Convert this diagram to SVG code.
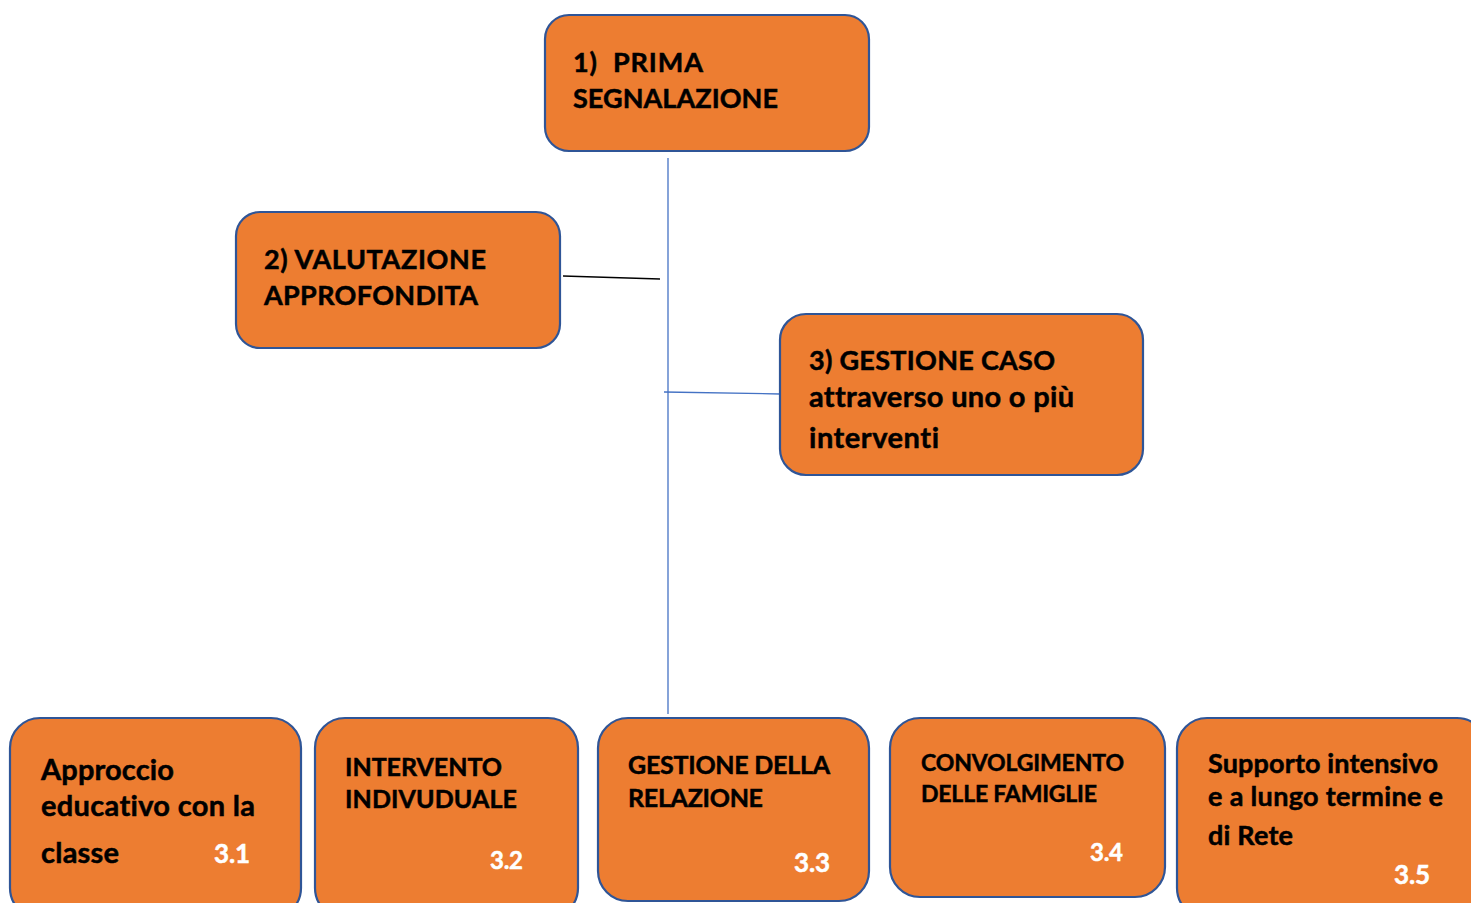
<svg xmlns="http://www.w3.org/2000/svg" width="1471" height="903" viewBox="0 0 1471 903">
<style>
.box{fill:#ED7D31;stroke:#2F5597;stroke-width:2.2}
.t{font-family:Lato,"Open Sans","Liberation Sans",sans-serif;font-weight:bold;fill:#000;stroke:#000;stroke-width:0.5;white-space:pre;font-variant-ligatures:none}
.n{font-family:Lato,"Open Sans","Liberation Sans",sans-serif;font-weight:bold;fill:#fff;stroke:#fff;stroke-width:0.5}
</style>
<rect width="1471" height="903" fill="#fff"/>
<g id="connectors">
<line x1="668" y1="158" x2="668" y2="714" stroke="#4472C4" stroke-width="1.3"/>
<line x1="563" y1="276" x2="660" y2="279" stroke="#000" stroke-width="1.3"/>
<line x1="664" y1="392" x2="780" y2="394" stroke="#4472C4" stroke-width="1.3"/>
</g>
<g id="n1">
<rect class="box" x="545" y="15" width="324" height="136" rx="24"/>
<text class="t" font-size="27" x="573" y="72" xml:space="preserve" textLength="130" lengthAdjust="spacing">1)  PRIMA</text>
<text class="t" font-size="27" x="573" y="108" textLength="205" lengthAdjust="spacing">SEGNALAZIONE</text>
</g>
<g id="n2">
<rect class="box" x="236" y="212" width="324" height="136" rx="24"/>
<text class="t" font-size="27" x="264" y="269" textLength="222" lengthAdjust="spacing">2) VALUTAZIONE</text>
<text class="t" font-size="27" x="264" y="305" textLength="214" lengthAdjust="spacing">APPROFONDITA</text>
</g>
<g id="n3">
<rect class="box" x="780" y="314" width="363" height="161" rx="26"/>
<text class="t" font-size="27" x="809" y="370" textLength="246" lengthAdjust="spacing">3) GESTIONE CASO</text>
<text class="t" font-size="29" x="809" y="407" textLength="265" lengthAdjust="spacing">attraverso uno o più</text>
<text class="t" font-size="29" x="809" y="448" textLength="130" lengthAdjust="spacing">interventi</text>
</g>
<g id="n31">
<rect class="box" x="10" y="718" width="291" height="200" rx="30"/>
<text class="t" font-size="29" x="41" y="780" textLength="133" lengthAdjust="spacing">Approccio</text>
<text class="t" font-size="29" x="41" y="816" textLength="214" lengthAdjust="spacing">educativo con la</text>
<text class="t" font-size="29" x="41" y="863" textLength="78" lengthAdjust="spacing">classe</text>
<text class="n" font-size="26" x="214" y="863" textLength="36" lengthAdjust="spacing">3.1</text>
</g>
<g id="n32">
<rect class="box" x="315" y="718" width="263" height="200" rx="30"/>
<text class="t" font-size="25" x="345" y="776" textLength="157" lengthAdjust="spacing">INTERVENTO</text>
<text class="t" font-size="25" x="345" y="808" textLength="172" lengthAdjust="spacing">INDIVUDUALE</text>
<text class="n" font-size="24" x="490" y="869" textLength="33" lengthAdjust="spacing">3.2</text>
</g>
<g id="n33">
<rect class="box" x="598" y="718" width="271" height="183" rx="30"/>
<text class="t" font-size="25" x="628" y="774" textLength="202" lengthAdjust="spacing">GESTIONE DELLA</text>
<text class="t" font-size="25" x="628" y="807" textLength="135" lengthAdjust="spacing">RELAZIONE</text>
<text class="n" font-size="26" x="794" y="872" textLength="36" lengthAdjust="spacing">3.3</text>
</g>
<g id="n34">
<rect class="box" x="890" y="718" width="275" height="179" rx="30"/>
<text class="t" font-size="23" x="921" y="771" textLength="203" lengthAdjust="spacing">CONVOLGIMENTO</text>
<text class="t" font-size="23" x="921" y="802" textLength="176" lengthAdjust="spacing">DELLE FAMIGLIE</text>
<text class="n" font-size="24" x="1090" y="861" textLength="33" lengthAdjust="spacing">3.4</text>
</g>
<g id="n35">
<rect class="box" x="1177" y="718" width="310" height="200" rx="30"/>
<text class="t" font-size="27" x="1208" y="773" textLength="230" lengthAdjust="spacing">Supporto intensivo</text>
<text class="t" font-size="27" x="1208" y="806" textLength="235" lengthAdjust="spacing">e a lungo termine e</text>
<text class="t" font-size="27" x="1208" y="845" textLength="85" lengthAdjust="spacing">di Rete</text>
<text class="n" font-size="26" x="1394" y="884" textLength="36" lengthAdjust="spacing">3.5</text>
</g>
</svg>
